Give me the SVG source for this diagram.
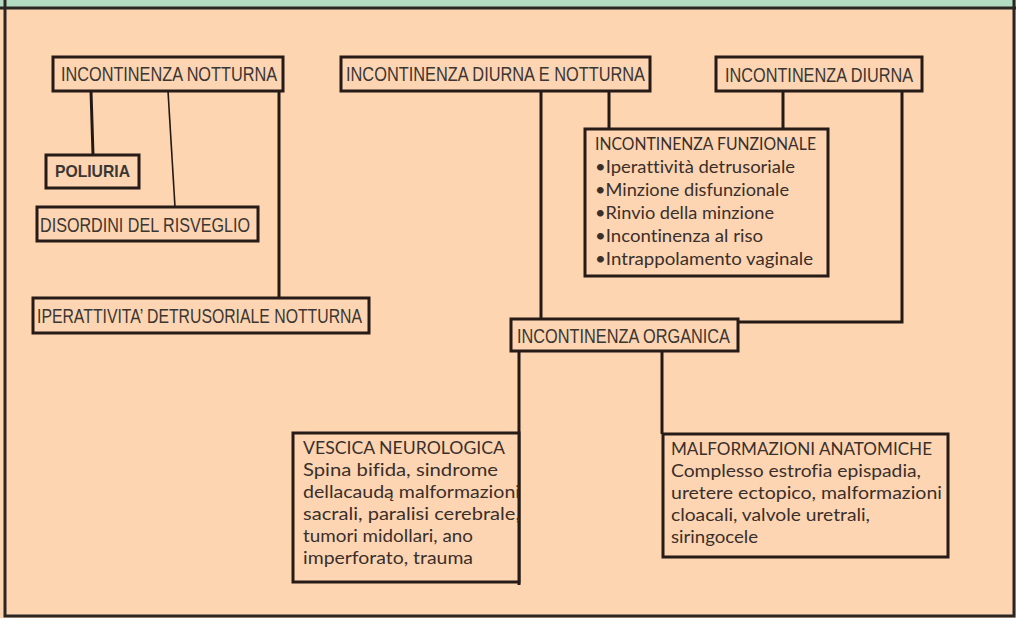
<svg xmlns="http://www.w3.org/2000/svg" width="1016" height="618" viewBox="0 0 1016 618">
  <style>
    .box { fill: #fdd5b2; stroke: #261b16; stroke-width: 3; }
    .lbl { font-family: "Liberation Sans", Arial, sans-serif; font-size: 20.5px; fill: #3c3633; }
    .bold { font-weight: bold; font-size: 17px; }
    .txt { font-family: Lato, "Open Sans", sans-serif; font-size: 17px; fill: #3a2f2a; font-variant-ligatures: none; }
    .wire { fill: none; stroke: #241a15; stroke-width: 3; }
    .thin { stroke-width: 1.6; }
  </style>

  <!-- page background and frame -->
  <rect x="0" y="0" width="1016" height="618" fill="#fdd5b1"/>
  <rect x="0" y="0" width="1016" height="8" fill="#b4dcc2"/>
  <line x1="0" y1="8" x2="1016" y2="8" stroke="#2a2624" stroke-width="3"/>
  <rect x="5" y="-5" width="1009" height="621" fill="none" stroke="#2a2624" stroke-width="3"/>

  <!-- connectors -->
  <g id="connectors">
    <line class="wire" x1="91" y1="91" x2="93" y2="155"/>
    <line class="wire thin" x1="168" y1="91" x2="175" y2="207"/>
    <line class="wire" x1="279" y1="91" x2="279" y2="298"/>
    <line class="wire" x1="541" y1="91" x2="541" y2="319"/>
    <line class="wire" x1="609" y1="91" x2="609" y2="129"/>
    <line class="wire" x1="783" y1="91" x2="783" y2="129"/>
    <polyline class="wire" points="902,91 902,322 738,322"/>
    <line class="wire" x1="519" y1="351" x2="519" y2="585"/>
    <line class="wire" x1="662" y1="351" x2="662" y2="434"/>
  </g>

  <g id="notturna">
    <rect class="box" x="53" y="57" width="230" height="34"/>
    <text class="lbl" x="61" y="81" textLength="216" lengthAdjust="spacingAndGlyphs">INCONTINENZA NOTTURNA</text>
  </g>

  <g id="poliuria">
    <rect class="box" x="46" y="155" width="93" height="33"/>
    <text class="lbl bold" x="55" y="177" textLength="75" lengthAdjust="spacingAndGlyphs">POLIURIA</text>
  </g>

  <g id="risveglio">
    <rect class="box" x="37" y="207" width="221" height="34"/>
    <text class="lbl" x="40" y="232" textLength="210" lengthAdjust="spacingAndGlyphs">DISORDINI DEL RISVEGLIO</text>
  </g>

  <g id="detrusoriale-notturna">
    <rect class="box" x="33" y="298" width="336" height="35"/>
    <text class="lbl" x="37" y="323" textLength="325" lengthAdjust="spacingAndGlyphs">IPERATTIVITA’ DETRUSORIALE NOTTURNA</text>
  </g>

  <g id="diurna-notturna">
    <rect class="box" x="341" y="57" width="309" height="34"/>
    <text class="lbl" x="346" y="81" textLength="299" lengthAdjust="spacingAndGlyphs">INCONTINENZA DIURNA E NOTTURNA</text>
  </g>

  <g id="diurna">
    <rect class="box" x="716" y="57" width="206" height="34"/>
    <text class="lbl" x="725" y="82" textLength="188" lengthAdjust="spacingAndGlyphs">INCONTINENZA DIURNA</text>
  </g>

  <g id="funzionale">
    <rect class="box" x="585" y="129" width="243" height="147"/>
    <text class="txt" x="595" y="150" textLength="221" lengthAdjust="spacingAndGlyphs">INCONTINENZA FUNZIONALE</text>
    <text class="txt" x="595" y="173" textLength="200" lengthAdjust="spacingAndGlyphs">•Iperattività detrusoriale</text>
    <text class="txt" x="595" y="196" textLength="194" lengthAdjust="spacingAndGlyphs">•Minzione disfunzionale</text>
    <text class="txt" x="595" y="219" textLength="179" lengthAdjust="spacingAndGlyphs">•Rinvio della minzione</text>
    <text class="txt" x="595" y="242" textLength="168" lengthAdjust="spacingAndGlyphs">•Incontinenza al riso</text>
    <text class="txt" x="595" y="265" textLength="218" lengthAdjust="spacingAndGlyphs">•Intrappolamento vaginale</text>
  </g>

  <g id="organica">
    <rect class="box" x="511" y="319" width="227" height="32"/>
    <text class="lbl" x="517" y="343" textLength="213" lengthAdjust="spacingAndGlyphs">INCONTINENZA ORGANICA</text>
  </g>

  <g id="neurologica">
    <rect class="box" x="293" y="433" width="226" height="149"/>
    <text class="txt" x="303" y="454" textLength="202" lengthAdjust="spacingAndGlyphs">VESCICA NEUROLOGICA</text>
    <text class="txt" x="303" y="476" textLength="195" lengthAdjust="spacingAndGlyphs">Spina bifida, sindrome</text>
    <text class="txt" x="303" y="498" textLength="217" lengthAdjust="spacingAndGlyphs">dellacaudą malformazioni</text>
    <text class="txt" x="303" y="520" textLength="217" lengthAdjust="spacingAndGlyphs">sacrali, paralisi cerebrale,</text>
    <text class="txt" x="303" y="542" textLength="170" lengthAdjust="spacingAndGlyphs">tumori midollari, ano</text>
    <text class="txt" x="303" y="564" textLength="170" lengthAdjust="spacingAndGlyphs">imperforato, trauma</text>
  </g>

  <g id="anatomiche">
    <rect class="box" x="663" y="434" width="285" height="123"/>
    <text class="txt" x="671" y="455" textLength="261" lengthAdjust="spacingAndGlyphs">MALFORMAZIONI ANATOMICHE</text>
    <text class="txt" x="671" y="477" textLength="250" lengthAdjust="spacingAndGlyphs">Complesso estrofia epispadia,</text>
    <text class="txt" x="671" y="499" textLength="271" lengthAdjust="spacingAndGlyphs">uretere ectopico, malformazioni</text>
    <text class="txt" x="671" y="521" textLength="199" lengthAdjust="spacingAndGlyphs">cloacali, valvole uretrali,</text>
    <text class="txt" x="671" y="543" textLength="87" lengthAdjust="spacingAndGlyphs">siringocele</text>
  </g>
</svg>
